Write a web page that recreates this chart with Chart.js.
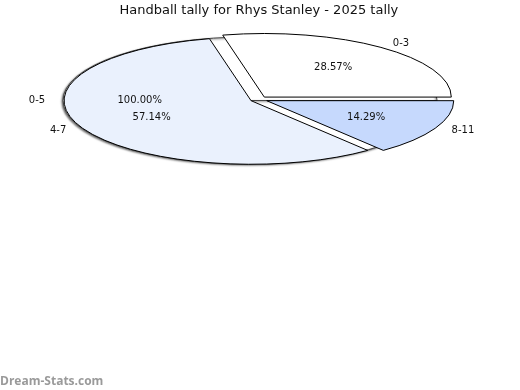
<!DOCTYPE html>
<html><head><meta charset="utf-8">
<script src="https://cdn.jsdelivr.net/npm/chart.js@4/dist/chart.umd.min.js"></script>
<style>
html,body{margin:0;padding:0;background:#fff;}
#wrap{position:relative;width:520px;height:390px;overflow:hidden;}
#wrap canvas{position:absolute;left:0;top:0;}
</style></head><body>
<div id="wrap"><canvas id="bg" width="520" height="390"></canvas><canvas id="main" width="520" height="390"></canvas></div>
<script>
// ---- data ----
const TITLE = 'Handball tally for Rhys Stanley - 2025 tally';
const categories = ['0-3', '8-11', '4-7'];
const values = [2, 1, 4];
const bgCategories = ['0-5'];
const bgValues = [1];
const WATERMARK = 'Dream-Stats.com';

// ---- style ----
const sliceColors = ['#ffffff', '#c6d9fd', '#eaf1fd'];
const SQUASH = 0.34;      // vertical flattening of the pie
const RADIUS = 187;
const EXPLODE = 8.7;      // px displacement of each slice
const FONT = '"DejaVu Sans", sans-serif';

function pct(v, total) { return (v / total * 100).toFixed(2) + '%'; }

function makeSquash(shadow, explode) {
  return {
    id: 'squash',
    beforeDatasetsDraw(chart) {
      const ctx = chart.ctx;
      const meta = chart.getDatasetMeta(0);
      const cy = meta.data[0].y;
      ctx.save();
      const base = ctx.getTransform();
      ctx.translate(0, cy); ctx.scale(1, SQUASH); ctx.translate(0, -cy);
      const protoStroke = CanvasRenderingContext2D.prototype.stroke;
      ctx.stroke = function () { this.save(); this.setTransform(base); protoStroke.apply(this, arguments); this.restore(); };
      if (shadow) {
        ctx.shadowColor = 'rgba(0,0,0,0.55)';
        ctx.shadowBlur = 2;
        ctx.shadowOffsetX = -1;
        ctx.shadowOffsetY = 1;
      }
      meta.data.forEach(el => {
        if (el._wrapped) return;
        el._wrapped = true;
        const orig = el.draw;
        el.draw = function (c) {
          const mid = (this.startAngle + this.endAngle) / 2;
          c.save();
          c.translate(Math.cos(mid) * explode, Math.sin(mid) * explode);
          orig.call(this, c);
          c.restore();
        };
      });
    },
    afterDatasetsDraw(chart) {
      delete chart.ctx.stroke;
      chart.ctx.restore();
    }
  };
}

function drawSliceLabels(ctx, chart, explode) {
  const meta = chart.getDatasetMeta(0);
  const data = chart.data.datasets[0].data;
  const total = data.reduce((a, b) => a + b, 0);
  ctx.font = '10px ' + FONT;
  ctx.fillStyle = '#111';
  ctx.textBaseline = 'middle';
  meta.data.forEach((arc, i) => {
    const mid = (arc.startAngle + arc.endAngle) / 2;
    const r = arc.outerRadius;
    const at = f => [arc.x + Math.cos(mid) * (explode + r * f),
                     arc.y + Math.sin(mid) * (explode + r * f) * SQUASH];
    const [px, py] = at(0.59);
    ctx.textAlign = 'center';
    ctx.fillText(pct(data[i], total), px, py);
    const [lx, ly] = at(1.085);
    const right = Math.cos(mid) >= 0;
    ctx.textAlign = right ? 'left' : 'right';
    ctx.fillText(chart.data.labels[i], lx + (right ? 2 : -2), ly);
  });
}

// background full pie (0-5, 100%)
const bgChart = new Chart(document.getElementById('bg'), {
  type: 'pie',
  data: {
    labels: bgCategories,
    datasets: [{ data: bgValues, backgroundColor: '#ffffff', borderColor: '#444', borderWidth: 1, clip: false }]
  },
  options: {
    responsive: false, animation: false, events: [],
    rotation: 90, radius: RADIUS,
    layout: { padding: { left: 0, right: 20, top: 0, bottom: 189 } },
    plugins: { legend: { display: false }, tooltip: { enabled: false }, title: { display: false } }
  },
  plugins: [makeSquash(true, 0)]
});

const labelsPlugin = {
  id: 'sliceLabels',
  afterDraw(chart) {
    const ctx = chart.ctx;
    ctx.save();
    drawSliceLabels(ctx, bgChart, 0);
    drawSliceLabels(ctx, chart, EXPLODE);
    ctx.font = 'bold 12px "Open Sans", sans-serif';
    ctx.fillStyle = '#9a9a9a';
    ctx.textAlign = 'left';
    ctx.textBaseline = 'alphabetic';
    ctx.fillText(WATERMARK, 0, 385);
    ctx.restore();
  }
};

// main exploded pie
new Chart(document.getElementById('main'), {
  type: 'pie',
  data: {
    labels: categories,
    datasets: [{ data: values, backgroundColor: sliceColors, borderColor: '#000', borderWidth: 1, clip: false }]
  },
  options: {
    responsive: false, animation: false, events: [],
    rotation: -12.86, radius: RADIUS,
    layout: { padding: { left: 0, right: 2.2, top: 0, bottom: 212.8 } },
    plugins: {
      legend: { display: false }, tooltip: { enabled: false },
      title: { display: true, text: TITLE, color: '#111', font: { family: FONT, size: 13, weight: 'normal' }, padding: { top: 3, bottom: 3 } }
    }
  },
  plugins: [makeSquash(false, EXPLODE), labelsPlugin]
});
</script>
</body></html>
